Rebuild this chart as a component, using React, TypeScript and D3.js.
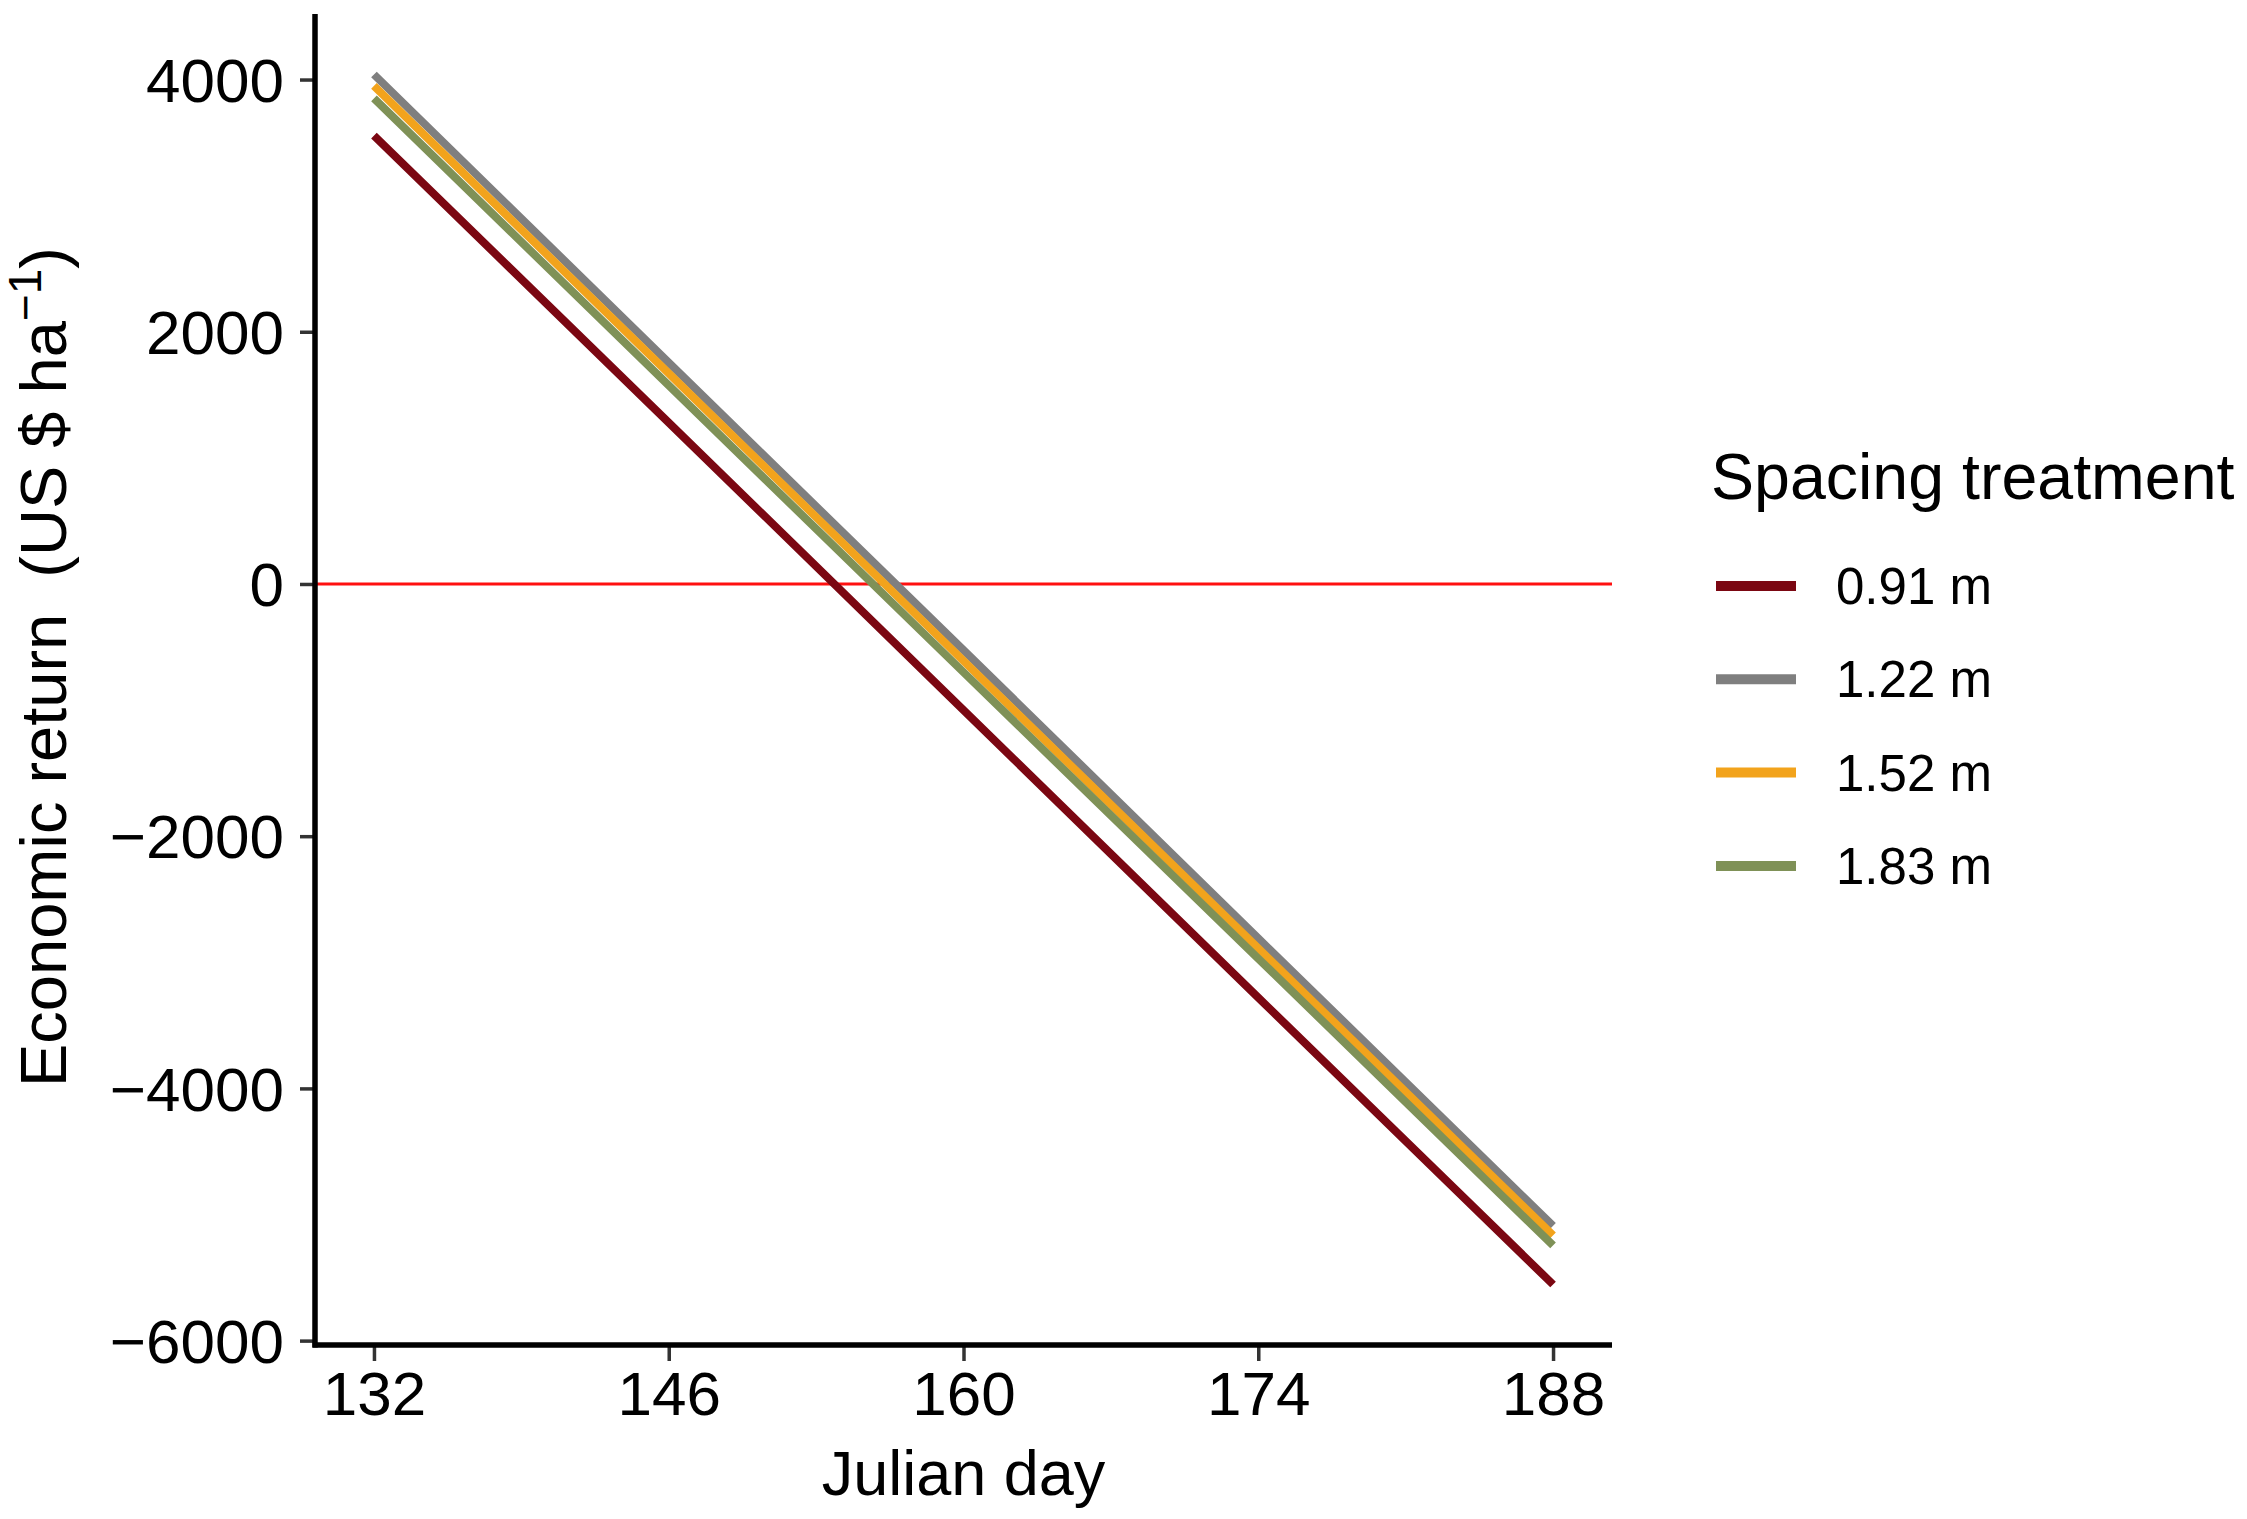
import * as d3 from 'd3';
import React, { useEffect, useRef } from 'react';

// Julian days where the curves are sampled
const days = [132, 146, 160, 174, 188];

// spacing treatments (legend order) and their colours
const treatments = ['0.91 m', '1.22 m', '1.52 m', '1.83 m'];
const colors = ['#7b0712', '#7f7f7f', '#f2a31c', '#7f9157'];

// economic return (US $ / ha) per treatment
const ret091 = [3555, 1280, -1000, -3280, -5555];
const ret122 = [4040, 1755, -525, -2810, -5090];
const ret152 = [3950, 1670, -610, -2890, -5165];
const ret183 = [3850, 1575, -700, -2970, -5245];

const xTicks = [132, 146, 160, 174, 188];
const yTicks = [4000, 2000, 0, -2000, -4000, -6000];

const series = [ret091, ret122, ret152, ret183];

function expand([lo, hi]: [number, number], mult = 0.05): [number, number] {
  const pad = (hi - lo) * mult;
  return [lo - pad, hi + pad];
}

function App() {
  const ref = useRef<SVGSVGElement>(null);

  const width = 2247;
  const height = 1519;
  const left = 315;
  const right = 1612;
  const top = 14;
  const bottom = 1345;
  const font = "'Liberation Sans', Arial, Helvetica, sans-serif";

  useEffect(() => {
    const svg = d3.select(ref.current);
    svg.selectAll('*').remove();

    const allVals = series.flat();
    const x = d3.scaleLinear()
      .domain(expand(d3.extent(days) as [number, number]))
      .range([left, right]);
    const y = d3.scaleLinear()
      .domain(expand(d3.extent(allVals) as [number, number]))
      .range([bottom, top]);

    // zero line
    svg.append('line')
      .attr('x1', left).attr('x2', right)
      .attr('y1', y(0)).attr('y2', y(0))
      .attr('stroke', '#ff1010')
      .attr('stroke-width', 3);

    const line = d3.line<number>()
      .x((d, i) => x(days[i]))
      .y(d => y(d));

    series.forEach((vals, i) => {
      svg.append('path')
        .datum(vals)
        .attr('d', line)
        .attr('fill', 'none')
        .attr('stroke', colors[i])
        .attr('stroke-width', 8)
        .attr('stroke-linejoin', 'round');
    });

    // y axis
    const yAxis = svg.append('g')
      .attr('transform', `translate(${left},0)`)
      .call(d3.axisLeft(y).tickValues(yTicks).tickSize(15).tickPadding(16)
        .tickFormat(d => (d as number) < 0 ? '\u2212' + Math.abs(d as number) : String(d)));
    yAxis.select('.domain').remove();
    yAxis.selectAll('.tick line').attr('stroke', '#333').attr('stroke-width', 3.5);
    yAxis.selectAll('.tick text')
      .attr('font-family', font).attr('font-size', 62).attr('fill', '#000')
      .attr('dy', '0.35em');

    // x axis
    const xAxis = svg.append('g')
      .attr('transform', `translate(0,${bottom})`)
      .call(d3.axisBottom(x).tickValues(xTicks).tickSize(16).tickPadding(10)
        .tickFormat(d => String(d)));
    xAxis.select('.domain').remove();
    xAxis.selectAll('.tick line').attr('stroke', '#333').attr('stroke-width', 3.5);
    xAxis.selectAll('.tick text')
      .attr('font-family', font).attr('font-size', 62).attr('fill', '#000')
      .attr('dy', '0.71em');

    // axis lines
    svg.append('line')
      .attr('x1', left).attr('x2', left).attr('y1', top).attr('y2', bottom + 2.5)
      .attr('stroke', '#000').attr('stroke-width', 5.5);
    svg.append('line')
      .attr('x1', left - 2.5).attr('x2', right).attr('y1', bottom).attr('y2', bottom)
      .attr('stroke', '#000').attr('stroke-width', 5.5);

    // axis titles
    svg.append('text')
      .attr('x', (left + right) / 2).attr('y', 1495)
      .attr('text-anchor', 'middle')
      .attr('font-family', font).attr('font-size', 63)
      .text('Julian day');

    const yTitle = svg.append('text')
      .attr('transform', `translate(66,667) rotate(-90)`)
      .attr('text-anchor', 'middle')
      .attr('font-family', font).attr('font-size', 65);
    yTitle.append('tspan').text('Economic return\u00a0\u00a0(US $ ha');
    yTitle.append('tspan').attr('font-size', 46).attr('dy', -25).text('\u22121');
    yTitle.append('tspan').attr('dy', 25).text(')');

    // legend
    const legend = svg.append('g');
    legend.append('text')
      .attr('x', 1711).attr('y', 499)
      .attr('font-family', font).attr('font-size', 64.5)
      .text('Spacing treatment');

    treatments.forEach((t, i) => {
      const cy = 586 + i * 93.3;
      legend.append('line')
        .attr('x1', 1716).attr('x2', 1796)
        .attr('y1', cy).attr('y2', cy)
        .attr('stroke', colors[i]).attr('stroke-width', 10);
      legend.append('text')
        .attr('x', 1836).attr('y', cy + 18)
        .attr('font-family', font).attr('font-size', 51)
        .text(t);
    });
  }, []);

  return (
    <svg
      ref={ref}
      width={width}
      height={height}
      style={{ position: 'absolute', left: 0, top: 0, background: '#fff' }}
    />
  );
}

export default App;
